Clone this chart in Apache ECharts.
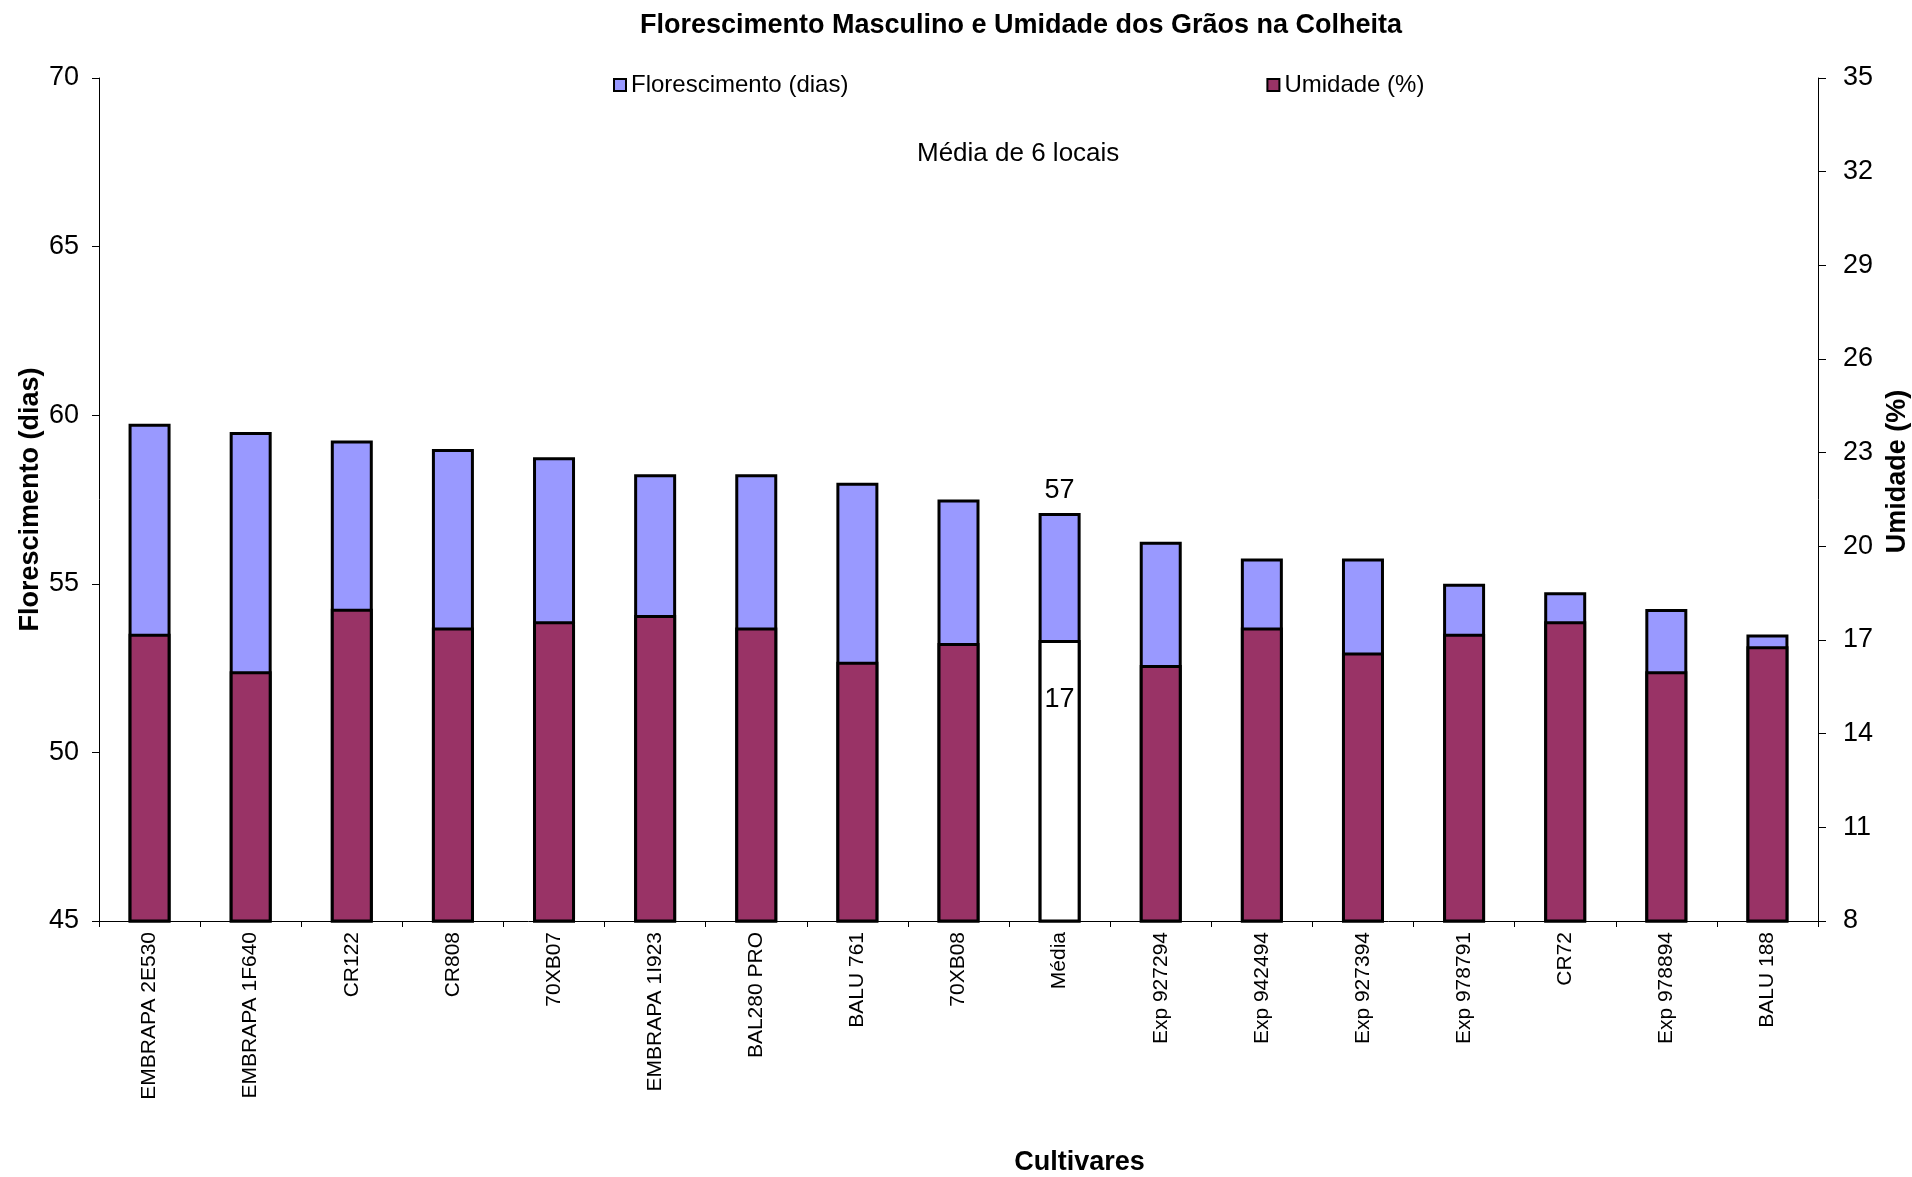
<!DOCTYPE html>
<html>
<head>
<meta charset="utf-8">
<script src="https://cdn.jsdelivr.net/npm/echarts@6/dist/echarts.min.js"></script>
<style>html,body{margin:0;padding:0;background:#fff}#c{width:1912px;height:1177px}</style>
</head>
<body>
<div id="c"></div>
<script>
var categories = ['EMBRAPA 2E530','EMBRAPA 1F640','CR122','CR808','70XB07','EMBRAPA 1I923','BAL280 PRO','BALU 761','70XB08','Média','Exp 927294','Exp 942494','Exp 927394','Exp 978791','CR72','Exp 978894','BALU 188'];
var florescimento = [59.75, 59.5, 59.25, 59.0, 58.75, 58.25, 58.25, 58.0, 57.5, 57.1, 56.25, 55.75, 55.75, 55.0, 54.75, 54.25, 53.5];
var umidade = [17.2, 16.0, 18.0, 17.4, 17.6, 17.8, 17.4, 16.3, 16.9, 17.0, 16.2, 17.4, 16.6, 17.2, 17.6, 16.0, 16.8];
var mediaName = 'Média';

var FONT = "'Liberation Sans', Arial, sans-serif";
var mediaIdx = categories.indexOf(mediaName);

var florData = florescimento.map(function (v, i) {
  if (i === mediaIdx) {
    return { value: v, label: { show: true, position: 'top', distance: 9, fontSize: 27, color: '#000', fontFamily: FONT,
      formatter: function (p) { return Math.round(p.value); } } };
  }
  return v;
});
var umidData = umidade.map(function (v, i) {
  if (i === mediaIdx) {
    return { value: v, itemStyle: { color: '#ffffff' },
      label: { show: true, position: 'insideTop', distance: 46, fontSize: 27, color: '#000', fontFamily: FONT,
        formatter: function (p) { return Math.round(p.value); } } };
  }
  return v;
});

var chart = echarts.init(document.getElementById('c'), null, { renderer: 'canvas' });
chart.setOption({
  animation: false,
  backgroundColor: '#fff',
  textStyle: { fontFamily: FONT, color: '#000' },
  title: {
    text: 'Florescimento Masculino e Umidade dos Grãos na Colheita',
    left: 1016, top: 7, textAlign: 'center',
    textStyle: { fontFamily: FONT, fontSize: 27, fontWeight: 'bold', color: '#000' }
  },
  legend: {
    left: 608, top: 68,
    itemWidth: 12, itemHeight: 12, itemGap: 418,
    icon: 'rect',
    textStyle: { fontFamily: FONT, fontSize: 24, color: '#000' },
    data: ['Florescimento (dias)', 'Umidade (%)']
  },
  graphic: [{
    type: 'text', left: 917, top: 141,
    style: { text: 'Média de 6 locais', fontFamily: FONT, fontSize: 26, fill: '#000' }
  }],
  grid: { left: 99, right: 94, top: 78, bottom: 256, containLabel: false, outerBoundsMode: 'none' },
  xAxis: {
    type: 'category', data: categories,
    axisLine: { lineStyle: { color: '#000', width: 1 } },
    axisTick: { show: true, length: 6, lineStyle: { color: '#000' } },
    axisLabel: { rotate: 90, fontSize: 21, fontFamily: FONT, color: '#000', margin: 11, interval: 0 },
    name: 'Cultivares', nameLocation: 'middle', nameGap: 228,
    nameTextStyle: { fontFamily: FONT, fontSize: 27, fontWeight: 'bold', color: '#000', padding: [0, 0, 0, 242] }
  },
  yAxis: [{
    type: 'value', min: 45, max: 70, interval: 5,
    splitLine: { show: false },
    axisLine: { show: true, lineStyle: { color: '#000', width: 1 } },
    axisTick: { show: true, length: 7, lineStyle: { color: '#000' } },
    axisLabel: { fontSize: 27, fontFamily: FONT, color: '#000', margin: 20 },
    name: 'Florescimento (dias)', nameLocation: 'middle', nameGap: 55, nameMoveOverlap: false,
    nameTextStyle: { fontFamily: FONT, fontSize: 27, fontWeight: 'bold', color: '#000' }
  }, {
    type: 'value', min: 8, max: 35, interval: 3, position: 'right',
    splitLine: { show: false },
    axisLine: { show: true, lineStyle: { color: '#000', width: 1 } },
    axisTick: { show: true, length: 8, lineStyle: { color: '#000' } },
    axisLabel: { fontSize: 27, fontFamily: FONT, color: '#000', margin: 25 },
    name: 'Umidade (%)', nameLocation: 'middle', nameGap: 62, nameRotate: 90,
    nameTextStyle: { fontFamily: FONT, fontSize: 27, fontWeight: 'bold', color: '#000', padding: [0, 0, 0, 56] }
  }],
  series: [{
    name: 'Florescimento (dias)', type: 'bar', yAxisIndex: 0,
    data: florData, barWidth: 42,
    itemStyle: { color: '#9999FF', borderColor: '#000', borderWidth: 3 }
  }, {
    name: 'Umidade (%)', type: 'bar', yAxisIndex: 1,
    data: umidData, barWidth: 42, barGap: '-100%',
    itemStyle: { color: '#993366', borderColor: '#000', borderWidth: 3 }
  }]
});
</script>
</body>
</html>
